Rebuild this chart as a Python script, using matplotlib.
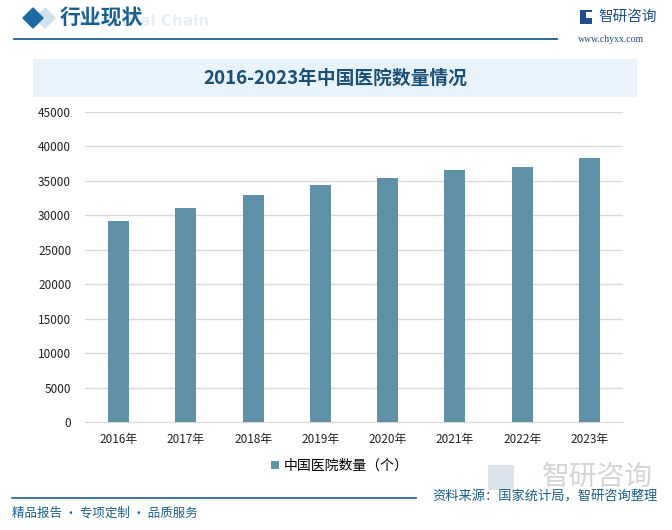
import matplotlib
matplotlib.use("Agg")
import matplotlib.pyplot as plt
from matplotlib.patches import Polygon, Rectangle

plt.rcParams['font.family'] = ['Noto Sans CJK SC', 'DejaVu Sans']

# data
years = ["2016年", "2017年", "2018年", "2019年", "2020年", "2021年", "2022年", "2023年"]
hospitals = [29140, 31056, 33009, 34354, 35394, 36570, 36976, 38355]
yticks = [0, 5000, 10000, 15000, 20000, 25000, 30000, 35000, 40000, 45000]

series_name = "中国医院数量（个）"
title = "2016-2023年中国医院数量情况"
source = "资料来源：国家统计局，智研咨询整理"
slogan = "精品报告 · 专项定制 · 品质服务"

BAR_COLOR = "#5e91a8"
DARK_BLUE = "#1a5f8f"

W, H = 672, 530
fig = plt.figure(figsize=(W / 100, H / 100), dpi=100)


def fx(px):
    return px / W


def fy(py):
    return 1 - py / H


# ---- header ----
fig.patches.append(Polygon([(fx(45), fy(8)), (fx(55), fy(18)), (fx(45), fy(28)), (fx(35), fy(18))],
                           closed=True, transform=fig.transFigure, color="#cfe2ee"))
fig.patches.append(Polygon([(fx(33), fy(8)), (fx(43), fy(18)), (fx(33), fy(28)), (fx(23), fy(18))],
                           closed=True, transform=fig.transFigure, color="#1a6aa3"))
# faded english subtitle sits behind the chinese heading
fig.text(fx(73), fy(22), "Industrial Chain", fontsize=11, fontweight="bold",
         color="#e3f0fa", va="center", ha="left", family=["DejaVu Sans"], zorder=0)
fig.text(fx(60), fy(18), "行业现状", fontsize=15, fontweight="bold",
         color=DARK_BLUE, va="center", ha="left", zorder=2)
fig.add_artist(plt.Line2D([fx(14), fx(557)], [fy(39), fy(39)], color=DARK_BLUE, lw=1.3))

# logo top-right
fig.patches.append(Rectangle((fx(580), fy(24)), fx(12), 14 / H, transform=fig.transFigure,
                             facecolor="#1f4d8c", edgecolor="none"))
fig.patches.append(Rectangle((fx(586), fy(18)), fx(6), 6 / H, transform=fig.transFigure,
                             facecolor="white", edgecolor="none"))
fig.text(fx(598), fy(17), "智研咨询", fontsize=10.5, color="#1f4d8c", va="center", ha="left")
fig.text(fx(578), fy(39), "www.chyxx.com", fontsize=7, color="#1f4d8c", va="center",
         ha="left", family=["Liberation Serif"])

# title band
fig.patches.append(Rectangle((fx(33), fy(97)), fx(637 - 33), 38 / H, transform=fig.transFigure,
                             facecolor="#e8f3fb", edgecolor="none"))
fig.text(fx(335), fy(78), title, fontsize=13.5, fontweight="bold", color="#1b4f78",
         va="center", ha="center")

# ---- chart ----
ax = fig.add_axes([fx(85), fy(422), fx(623 - 85), (422 - 112) / H])
x = range(len(years))
ax.bar(x, hospitals, width=0.31, color=BAR_COLOR, label=series_name, zorder=3)
ax.set_xlim(-0.5, len(years) - 0.5)
ax.set_ylim(0, 45000)
ax.set_yticks(yticks)
ax.set_yticklabels([str(v) for v in yticks], fontsize=8.5, color="#222222")
ax.set_xticks(list(x))
ax.set_xticklabels(years, fontsize=8.5, color="#222222")
ax.grid(axis="y", color="#d9d9d9", lw=1, zorder=0)
for s in ["top", "right", "left"]:
    ax.spines[s].set_visible(False)
ax.spines["bottom"].set_color("#d9d9d9")
ax.tick_params(length=0, pad=8)
ax.tick_params(axis="y", pad=10)

fig.legend(loc="center", bbox_to_anchor=(fx(340), fy(466)), frameon=False, fontsize=10,
           handlelength=0.55, handleheight=0.55, handletextpad=0.35)

# ---- footer ----
fig.text(fx(597), fy(477), "智研咨询", fontsize=20, color="#d0d0d0", va="center", ha="center",
         alpha=0.9)
fig.patches.append(Rectangle((fx(488), fy(490)), fx(26), 25 / H, transform=fig.transFigure,
                             facecolor="#d3dbe8", edgecolor="none", alpha=0.8))
fig.add_artist(plt.Line2D([fx(12), fx(416)], [fy(498), fy(498)], color=DARK_BLUE, lw=1.2))
fig.text(fx(658), fy(497), source, fontsize=9.5, color=DARK_BLUE, va="center", ha="right")
fig.text(fx(12), fy(513), slogan, fontsize=9, color=DARK_BLUE, va="center", ha="left")

plt.savefig("out.png", dpi=100)
